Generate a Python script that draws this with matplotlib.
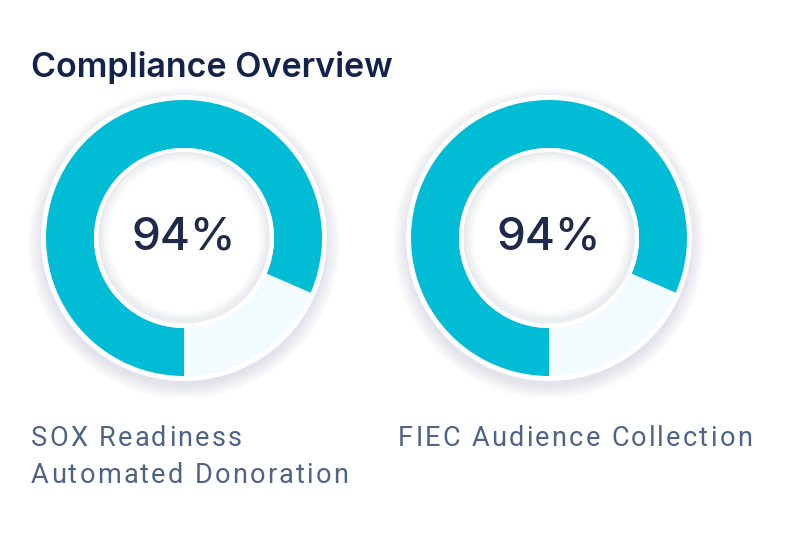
import matplotlib
matplotlib.use("Agg")
import matplotlib.pyplot as plt
from matplotlib.patches import Circle, Wedge
from matplotlib.font_manager import findfont, FontProperties
from matplotlib.ft2font import FT2Font

# data
chart_title = "Compliance Overview"
donut_labels = ["SOX Readiness\nAutomated Donoration", "FIEC Audience Collection"]
center_text = ["94%", "94%"]
filled_share = [81.5, 81.5]

W, H = 794, 536
TEAL = "#00bcd4"
PALE = "#f2fcfe"
NAVY = "#14234b"
LABEL = "#4f6384"


def tracked_text(ax, x, y, s, size, track, family="Roboto", **kw):
    # matplotlib has no letter-spacing, so lay the glyphs out one by one
    font = FT2Font(findfont(FontProperties(family=family)))
    font.set_size(size, 100)
    for ch in s:
        ax.text(x, y, ch, fontsize=size, family=family, ha="left",
                va="baseline", **kw)
        adv = font.load_char(ord(ch)).linearHoriAdvance / 65536
        x += adv + track


fig = plt.figure(figsize=(W / 100, H / 100), dpi=100)
ax = fig.add_axes([0, 0, 1, 1])

centers = [(184, H - 238), (549, H - 238)]
r_out, r_in = 138, 90

for i, (cx, cy) in enumerate(centers):
    # soft drop shadow under the ring
    for k in range(14):
        ax.add_patch(Circle((cx, cy - 5), r_out + 4 + 14 - k, color="#9aa3b8",
                            alpha=0.014, lw=0, zorder=1))
    ax.add_patch(Circle((cx, cy), r_out + 5, color="white", lw=0, zorder=2))

    share = filled_share[i]
    ax.pie([share, 100 - share], colors=[TEAL, PALE], startangle=-90,
           counterclock=False, center=(cx, cy), radius=r_out,
           wedgeprops=dict(width=r_out - r_in, linewidth=0, zorder=2.5))

    # white inner rim and slightly shaded hole
    ax.add_patch(Circle((cx, cy), r_in, color="white", lw=0, zorder=3))
    for k in range(10):
        ax.add_patch(Wedge((cx, cy + 1), r_in - 5, 0, 360, width=10 - k,
                           color="#c5cad8", alpha=0.035, lw=0, zorder=4))
    ax.add_patch(Circle((cx, cy), r_in - 5, fill=False, edgecolor="#e6e8ef",
                        lw=0.8, zorder=5))

    ax.text(cx, H - 250, center_text[i], ha="center", va="baseline",
            fontsize=33, fontweight="medium", color="#1f2a4a", family="Inter",
            zorder=6)

# pie() resets the limits, so fix the pixel frame afterwards
ax.set_xlim(0, W)
ax.set_ylim(0, H)
ax.set_aspect("equal")
ax.axis("off")

ax.text(31, H - 77, chart_title, ha="left", va="baseline", fontsize=24.5,
        fontweight="semibold", color=NAVY, family="Inter")

label_x = [31, 398]
for i, label in enumerate(donut_labels):
    for j, line in enumerate(label.split("\n")):
        tracked_text(ax, label_x[i], H - 446 - 37 * j, line, 19.5, 2.25,
                     color=LABEL)

fig.savefig("out.png", dpi=100, facecolor="white")
